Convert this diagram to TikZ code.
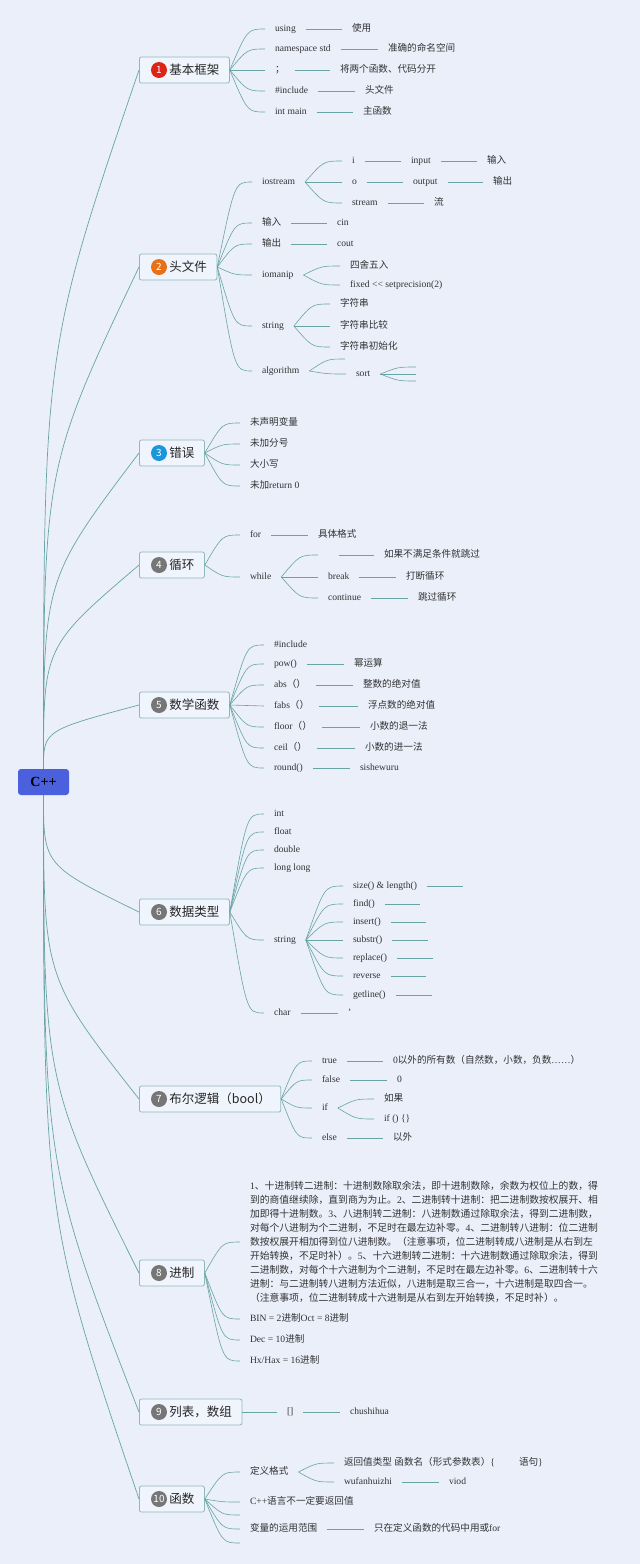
\documentclass[tikz,border=0pt]{standalone}
\usepackage{fontspec}
\setmainfont{Liberation Serif}
\newfontfamily\zhfont{Noto Sans CJK SC}
\newfontfamily\lafont{Liberation Serif}
\usetikzlibrary{calc}
\definecolor{bgblue}{RGB}{234,239,250}
\definecolor{boxfill}{RGB}{240,244,252}
\definecolor{boxline}{RGB}{143,184,186}
\definecolor{twigteal}{RGB}{104,164,164}
\definecolor{rootblue}{RGB}{74,96,221}
\definecolor{inkgray}{RGB}{51,51,51}
\definecolor{dotred}{RGB}{222,36,22}
\definecolor{dotorange}{RGB}{232,112,22}
\definecolor{dotblue}{RGB}{28,150,218}
\definecolor{dotgray}{RGB}{118,118,118}
\tikzset{
    trunk/.style={draw=twigteal, line width=0.7pt},
    twig/.style={draw=twigteal, line width=0.6pt},
    leaftext/.style={anchor=west, inner sep=0pt, outer xsep=10pt, xshift=-10pt,
        text height=7pt, text depth=2pt, text=inkgray, font=\fontsize{9.6}{11}\selectfont}
}
% 中文字符自动换用中文字体
\newXeTeXintercharclass\zhclass
\newcount\zhcount
\newcommand{\zhrange}[2]{\zhcount=#1\relax
    \loop\XeTeXcharclass\zhcount=\zhclass\advance\zhcount by 1\relax\ifnum\zhcount<#2\repeat}
\zhrange{"3000}{"3040}
\zhrange{"4E00}{"A000}
\zhrange{"FF00}{"FFF0}
\newcommand{\backfont}{\lafont}
\XeTeXinterchartoks 0 \zhclass = {\zhfont}
\XeTeXinterchartoks 4095 \zhclass = {\zhfont}
\XeTeXinterchartoks \zhclass 0 = {\backfont}
\XeTeXinterchartoks \zhclass 4095 = {\backfont}
\XeTeXinterchartokenstate=1
% 父子之间的弯线
\newcommand{\twigto}[2]{\draw[twig] (#1) .. controls ($(#1 |- #2)!0.5!(#2)$) .. (#2);}

\begin{document}
\begin{tikzpicture}[x=1pt, y=-1pt]
    % 样式
    \tikzset{
        rootbox/.style={fill=rootblue, rounded corners=3pt, minimum width=51pt, minimum height=26pt,
            inner sep=0pt, text=black, font=\fontsize{14}{14}\selectfont\bfseries},
        topicbox/.style={draw=boxline, fill=boxfill, line width=0.8pt, rounded corners=2pt, anchor=west,
            minimum height=26pt, inner xsep=10pt, inner ysep=0pt, text=black!85,
            font=\fontsize{12.5}{15}\selectfont\zhfont\let\backfont\zhfont,
            execute at begin node={\hspace*{20pt}}},
        numdot/.style={circle, inner sep=0pt, minimum size=16pt, text=white,
            font=\fontsize{10}{10}\selectfont\zhfont}
    }
    \useasboundingbox (0,0) rectangle (640,1564);
    \fill[bgblue] (0,0) rectangle (640,1564);

    % 根节点与一级主题
    \node[rootbox] (cpp) at (43.5,782) {C++};
    \node[topicbox] (b1) at (139,70) {基本框架};
    \node[topicbox] (b2) at (139,267) {头文件};
    \node[topicbox] (b3) at (139,453) {错误};
    \node[topicbox] (b4) at (139,565) {循环};
    \node[topicbox] (b5) at (139,705) {数学函数};
    \node[topicbox] (b6) at (139,912) {数据类型};
    \node[topicbox] (b7) at (139,1099) {布尔逻辑（bool）};
    \node[topicbox] (b8) at (139,1273) {进制};
    \node[topicbox] (b9) at (139,1412) {列表，数组};
    \node[topicbox] (b10) at (139,1499) {函数};
    \foreach \b/\n/\c in {b1/1/dotred, b2/2/dotorange, b3/3/dotblue, b4/4/dotgray, b5/5/dotgray,
        b6/6/dotgray, b7/7/dotgray, b8/8/dotgray, b9/9/dotgray, b10/10/dotgray}
        \node[numdot, fill=\c] at ([xshift=20pt]\b.west) {\n};

    \foreach \b in {b1,b2,b3,b4,b5}
        \draw[trunk] (cpp.north) .. controls ($(cpp.north)!0.6!(cpp.north |- \b.west)$) .. (\b.west);
    \foreach \b in {b6,b7,b8,b9,b10}
        \draw[trunk] (cpp.south) .. controls ($(cpp.south)!0.6!(cpp.south |- \b.west)$) .. (\b.west);

    % 1 基本框架
    \node[leaftext] (c11) at (275,29) {using};
    \node[leaftext] (d11) at (352,29) {使用};
    \node[leaftext] (c12) at (275,49) {namespace std};
    \node[leaftext] (d12) at (388,49) {准确的命名空间};
    \node[leaftext] (c13) at (275,70) {；};
    \node[leaftext] (d13) at (340,70) {将两个函数、代码分开};
    \node[leaftext] (c14) at (275,91) {\#include};
    \node[leaftext] (d14) at (365,91) {头文件};
    \node[leaftext] (c15) at (275,112) {int main};
    \node[leaftext] (d15) at (363,112) {主函数};
    \foreach \c in {c11,c12,c13,c14,c15} {\twigto{b1.east}{\c.west}}
    \foreach \a/\z in {c11/d11,c12/d12,c13/d13,c14/d14,c15/d15} \draw[twig] (\a.east) -- (\z.west);

    % 2 头文件
    \node[leaftext] (c21) at (262,182) {iostream};
    \node[leaftext] (e211) at (352,161) {i};
    \node[leaftext] (f211) at (411,161) {input};
    \node[leaftext] (g211) at (487,161) {输入};
    \node[leaftext] (e212) at (352,182) {o};
    \node[leaftext] (f212) at (413,182) {output};
    \node[leaftext] (g212) at (493,182) {输出};
    \node[leaftext] (e213) at (352,203) {stream};
    \node[leaftext] (f213) at (434,203) {流};
    \node[leaftext] (c22) at (262,223) {输入};
    \node[leaftext] (d22) at (337,223) {cin};
    \node[leaftext] (c23) at (262,244) {输出};
    \node[leaftext] (d23) at (337,244) {cout};
    \node[leaftext] (c24) at (262,275) {iomanip};
    \node[leaftext] (e241) at (350,266) {四舍五入};
    \node[leaftext] (e242) at (350,285) {fixed <\kern0pt< setprecision(2)};
    \node[leaftext] (c25) at (262,326) {string};
    \node[leaftext] (e251) at (340,304) {字符串};
    \node[leaftext] (e252) at (340,326) {字符串比较};
    \node[leaftext] (e253) at (340,347) {字符串初始化};
    \node[leaftext] (c26) at (262,371) {algorithm};
    \node[leaftext] (e261) at (355,359) {};
    \node[leaftext] (e262) at (356,374) {sort};
    \node[leaftext] (f262a) at (426,367) {};
    \node[leaftext] (f262b) at (426,374) {};
    \node[leaftext] (f262c) at (426,381) {};
    \foreach \c in {c21,c22,c23,c24,c25,c26} {\twigto{b2.east}{\c.west}}
    \foreach \c in {e211,e212,e213} {\twigto{c21.east}{\c.west}}
    \foreach \c in {e241,e242} {\twigto{c24.east}{\c.west}}
    \foreach \c in {e251,e252,e253} {\twigto{c25.east}{\c.west}}
    \foreach \c in {e261,e262} {\twigto{c26.east}{\c.west}}
    \foreach \c in {f262a,f262b,f262c} {\twigto{e262.east}{\c.west}}
    \foreach \a/\z in {e211/f211,f211/g211,e212/f212,f212/g212,e213/f213,c22/d22,c23/d23}
        \draw[twig] (\a.east) -- (\z.west);

    % 3 错误
    \node[leaftext] (c31) at (250,423) {未声明变量};
    \node[leaftext] (c32) at (250,444) {未加分号};
    \node[leaftext] (c33) at (250,465) {大小写};
    \node[leaftext] (c34) at (250,486) {未加return 0};
    \foreach \c in {c31,c32,c33,c34} {\twigto{b3.east}{\c.west}}

    % 4 循环
    \node[leaftext] (c41) at (250,535) {for};
    \node[leaftext] (d41) at (318,535) {具体格式};
    \node[leaftext] (c42) at (250,577) {while};
    \node[leaftext] (e421) at (328,555) {};
    \node[leaftext] (f421) at (384,555) {如果不满足条件就跳过};
    \node[leaftext] (e422) at (328,577) {break};
    \node[leaftext] (f422) at (406,577) {打断循环};
    \node[leaftext] (e423) at (328,598) {continue};
    \node[leaftext] (f423) at (418,598) {跳过循环};
    \foreach \c in {c41,c42} {\twigto{b4.east}{\c.west}}
    \foreach \c in {e421,e422,e423} {\twigto{c42.east}{\c.west}}
    \foreach \a/\z in {c41/d41,e421/f421,e422/f422,e423/f423} \draw[twig] (\a.east) -- (\z.west);

    % 5 数学函数
    \node[leaftext] (c51) at (274,645) {\#include};
    \node[leaftext] (c52) at (274,664) {pow()};
    \node[leaftext] (d52) at (354,664) {幂运算};
    \node[leaftext] (c53) at (274,685) {abs（）};
    \node[leaftext] (d53) at (363,685) {整数的绝对值};
    \node[leaftext] (c54) at (274,706) {fabs（）};
    \node[leaftext] (d54) at (368,706) {浮点数的绝对值};
    \node[leaftext] (c55) at (274,727) {floor（）};
    \node[leaftext] (d55) at (370,727) {小数的退一法};
    \node[leaftext] (c56) at (274,748) {ceil（）};
    \node[leaftext] (d56) at (365,748) {小数的进一法};
    \node[leaftext] (c57) at (274,768) {round()};
    \node[leaftext] (d57) at (360,768) {sishewuru};
    \foreach \c in {c51,c52,c53,c54,c55,c56,c57} {\twigto{b5.east}{\c.west}}
    \foreach \a/\z in {c52/d52,c53/d53,c54/d54,c55/d55,c56/d56,c57/d57} \draw[twig] (\a.east) -- (\z.west);

    % 6 数据类型
    \node[leaftext] (c61) at (274,814) {int};
    \node[leaftext] (c62) at (274,832) {float};
    \node[leaftext] (c63) at (274,850) {double};
    \node[leaftext] (c64) at (274,868) {long long};
    \node[leaftext] (c65) at (274,940) {string};
    \node[leaftext] (e651) at (353,886) {size() \& length()};
    \node[leaftext] (e652) at (353,904) {find()};
    \node[leaftext] (e653) at (353,922) {insert()};
    \node[leaftext] (e654) at (353,940) {substr()};
    \node[leaftext] (e655) at (353,958) {replace()};
    \node[leaftext] (e656) at (353,976) {reverse};
    \node[leaftext] (e657) at (353,995) {getline()};
    \node[leaftext] (f651) at (473,886) {};
    \node[leaftext] (f652) at (430,904) {};
    \node[leaftext] (f653) at (436,922) {};
    \node[leaftext] (f654) at (438,940) {};
    \node[leaftext] (f655) at (443,958) {};
    \node[leaftext] (f656) at (436,976) {};
    \node[leaftext] (f657) at (442,995) {};
    \node[leaftext] (c66) at (274,1013) {char};
    \node[leaftext] (d66) at (348,1013) {'};
    \foreach \c in {c61,c62,c63,c64,c65,c66} {\twigto{b6.east}{\c.west}}
    \foreach \c in {e651,e652,e653,e654,e655,e656,e657} {\twigto{c65.east}{\c.west}}
    \foreach \a/\z in {e651/f651,e652/f652,e653/f653,e654/f654,e655/f655,e656/f656,e657/f657,c66/d66}
        \draw[twig] (\a.east) -- (\z.west);

    % 7 布尔逻辑
    \node[leaftext] (c71) at (322,1061) {true};
    \node[leaftext] (d71) at (393,1061) {0以外的所有数（自然数，小数，负数……）};
    \node[leaftext] (c72) at (322,1080) {false};
    \node[leaftext] (d72) at (397,1080) {0};
    \node[leaftext] (c73) at (322,1108) {if};
    \node[leaftext] (e731) at (384,1099) {如果};
    \node[leaftext] (e732) at (384,1119) {if () \{\}};
    \node[leaftext] (c74) at (322,1138) {else};
    \node[leaftext] (d74) at (393,1138) {以外};
    \foreach \c in {c71,c72,c73,c74} {\twigto{b7.east}{\c.west}}
    \foreach \c in {e731,e732} {\twigto{c73.east}{\c.west}}
    \foreach \a/\z in {c71/d71,c72/d72,c74/d74} \draw[twig] (\a.east) -- (\z.west);

    % 8 进制
    \node[anchor=west, inner sep=0pt, outer xsep=10pt, xshift=-10pt, align=left, text=inkgray,
        font=\fontsize{9.8}{14}\selectfont] (c81) at (250,1242) {%
        1、十进制转二进制：十进制数除取余法，即十进制数除，余数为权位上的数，得\\
        到的商值继续除，直到商为为止。2、二进制转十进制：把二进制数按权展开、相\\
        加即得十进制数。3、八进制转二进制：八进制数通过除取余法，得到二进制数，\\
        对每个八进制为个二进制，不足时在最左边补零。4、二进制转八进制：位二进制\\
        数按权展开相加得到位八进制数。（注意事项，位二进制转成八进制是从右到左\\
        开始转换，不足时补）。5、十六进制转二进制：十六进制数通过除取余法，得到\\
        二进制数，对每个十六进制为个二进制，不足时在最左边补零。6、二进制转十六\\
        进制：与二进制转八进制方法近似，八进制是取三合一，十六进制是取四合一。\\
        （注意事项，位二进制转成十六进制是从右到左开始转换，不足时补）。};
    \node[leaftext] (c82) at (250,1319) {BIN = 2进制Oct = 8进制};
    \node[leaftext] (c83) at (250,1340) {Dec = 10进制};
    \node[leaftext] (c84) at (250,1361) {Hx/Hax = 16进制};
    \foreach \c in {c81,c82,c83,c84} {\twigto{b8.east}{\c.west}}

    % 9 列表，数组
    \node[leaftext] (c91) at (287,1412) {[]};
    \node[leaftext] (d91) at (350,1412) {chushihua};
    \draw[twig] (b9.east) -- (c91.west);
    \draw[twig] (c91.east) -- (d91.west);

    % 10 函数
    \node[leaftext] (c101) at (250,1472) {定义格式};
    \node[leaftext] (e1011) at (344,1463) {返回值类型 函数名（形式参数表）\{\hspace{24pt}语句\}};
    \node[leaftext] (e1012) at (344,1482) {wufanhuizhi};
    \node[leaftext] (f1012) at (449,1482) {viod};
    \node[leaftext] (c102) at (250,1502) {C++语言不一定要返回值};
    \node[leaftext] (c103) at (250,1515) {};
    \node[leaftext] (c104) at (250,1529) {变量的运用范围};
    \node[leaftext] (d104) at (374,1529) {只在定义函数的代码中用或for};
    \node[leaftext] (c105) at (250,1543) {};
    \foreach \c in {c101,c102,c103,c104,c105} {\twigto{b10.east}{\c.west}}
    \foreach \c in {e1011,e1012} {\twigto{c101.east}{\c.west}}
    \foreach \a/\z in {e1012/f1012,c104/d104} \draw[twig] (\a.east) -- (\z.west);
\end{tikzpicture}
\end{document}
